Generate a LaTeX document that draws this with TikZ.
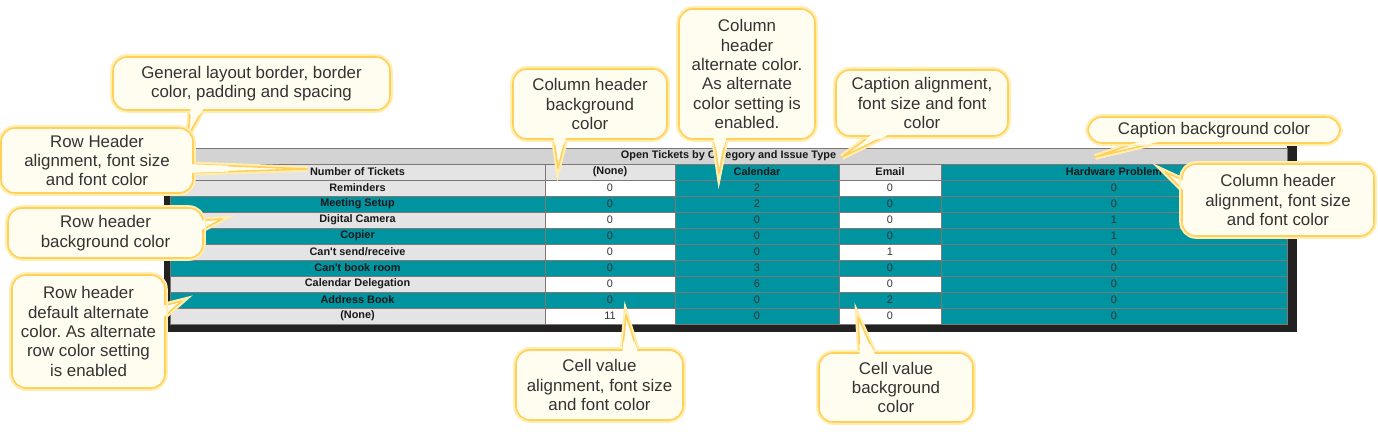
\documentclass[tikz,border=0pt]{standalone}
\usepackage{fontspec}
\setmainfont{Liberation Sans}
\usetikzlibrary{calc}
\frenchspacing

\definecolor{tealcell}{RGB}{0,147,160}
\definecolor{graycell}{RGB}{228,228,228}
\definecolor{capgray}{RGB}{211,211,211}
\definecolor{gridgray}{RGB}{128,118,118}
\definecolor{framedark}{RGB}{34,34,34}
\definecolor{calledge}{RGB}{255,208,92}
\definecolor{callglow}{RGB}{255,238,176}
\definecolor{callfill}{RGB}{255,253,240}
\definecolor{calltext}{RGB}{51,51,51}

% name, centre, width, height, base 1, base 2, tip, text
\newcommand{\calloutbox}[8]{%
  \path[tailline] (#5) -- (#7) -- (#6) -- cycle;
  \node[callbox, minimum width=#3, minimum height=#4] (#1) at (#2) {#8};
  \fill[callfill] (#5) -- ($(#5)!0.35!(#7)$) -- ($(#6)!0.35!(#7)$) -- (#6) -- cycle;
}

\begin{document}
\begin{tikzpicture}[
  x=0.02cm, y=-0.02cm,
  callbox/.style={draw=calledge, line width=0.9pt, fill=callfill, rounded corners=8pt,
    preaction={draw=callglow, line width=3.2pt}, align=center, inner sep=0pt,
    text=calltext, font=\fontsize{9.6}{11}\selectfont},
  tailline/.style={draw=calledge, line width=0.9pt, line join=round, fill=callfill,
    preaction={draw=callglow, line width=3.2pt}},
  rowhdr/.style={font=\fontsize{6.2}{7}\selectfont\bfseries, text=black!90, inner sep=0pt},
  cellval/.style={font=\fontsize{6.2}{7}\selectfont, text=black!80, inner sep=0pt},
  gridline/.style={draw=gridgray, line width=0.5pt}
]
\useasboundingbox (0,0) rectangle (1378,432);

% report frame and caption
\fill[framedark] (164,125) rectangle (170,332);
\fill[framedark] (164,324) rectangle (1297,332);
\fill[framedark] (1287,143) rectangle (1297,332);
\fill[capgray] (170,148) rectangle (1287,164);
\node[rowhdr] (caption) at (728.5,156) {Open Tickets by Category and Issue Type};

% row headers
\foreach \lab [count=\i from 0] in {Number of Tickets, Reminders, Meeting Setup,
    Digital Camera, Copier, Can\textquotesingle t send/receive, Can\textquotesingle t book room,
    Calendar Delegation, Address Book, (None)}{
  \pgfmathtruncatemacro\yt{164+16*\i}
  \ifodd\i \def\rc{graycell}\else\ifnum\i=0 \def\rc{graycell}\else\def\rc{tealcell}\fi\fi
  \fill[\rc] (170,\yt) rectangle (545,\yt+16);
  \node[rowhdr] (rh\i) at (357.5,\yt+8) {\lab};
}

% column headers
\foreach \lab/\xl/\xr/\cc [count=\k] in {(None)/545/675/graycell, Calendar/675/839/tealcell,
    Email/839/941/graycell, Hardware Problem/941/1287/tealcell}{
  \fill[\cc] (\xl,164) rectangle (\xr,180);
  \node[rowhdr] (ch\k) at ({(\xl+\xr)/2},172) {\lab};
}

% cell values
\foreach \a/\b/\c/\d [count=\j] in {0/2/0/0, 0/2/0/0, 0/0/0/1, 0/0/0/1, 0/0/1/0,
    0/3/0/0, 0/6/0/0, 0/0/2/0, 11/0/0/0}{
  \pgfmathtruncatemacro\yt{164+16*\j}
  \ifodd\j \def\wc{white}\else\def\wc{tealcell}\fi
  \fill[\wc] (545,\yt) rectangle (675,\yt+16);
  \fill[tealcell] (675,\yt) rectangle (839,\yt+16);
  \fill[\wc] (839,\yt) rectangle (941,\yt+16);
  \fill[tealcell] (941,\yt) rectangle (1287,\yt+16);
  \node[cellval] (v\j-1) at (610,\yt+8) {\a};
  \node[cellval] (v\j-2) at (757,\yt+8) {\b};
  \node[cellval] (v\j-3) at (890,\yt+8) {\c};
  \node[cellval] (v\j-4) at (1114,\yt+8) {\d};
}

% grid
\foreach \y in {164,180,...,308}
  \draw[gridline] (170,\y) -- (1287,\y);
\foreach \x in {545,675,839,941}
  \draw[gridline] (\x,164) -- (\x,324);
\draw[gridline] (170,148) rectangle (1287,324);

% callout tips
\coordinate (tipgen) at (188,136);
\coordinate (tiprowal) at (307,169);
\coordinate (tiprowbg) at (222,219);
\coordinate (tiprowalt) at (182,301);
\coordinate (tipcolbg) at (558,168);
\coordinate (tipcolalt) at (719,173);
\coordinate (tipcapal) at (842,157);
\coordinate (tipcapbg) at (1095,157);
\coordinate (tipcolal) at (1165,172);
\coordinate (tipcellal) at (626,315);
\coordinate (tipcellbg) at (858,317);

% callouts
\calloutbox{gen}{251.5,83.5}{5.54cm}{1.06cm}{191,104}{206,104}{tipgen}
  {General layout border, border\\color, padding and spacing}
\calloutbox{rowal}{97,160.5}{3.84cm}{1.30cm}{186,164}{186,173}{tiprowal}
  {Row Header\\alignment, font size\\and font color}
\calloutbox{rowbg}{105.5,233}{3.90cm}{1.00cm}{196,221}{196,233}{tiprowbg}
  {Row header\\background color}
\calloutbox{rowalt}{88.5,331.5}{3.06cm}{2.26cm}{158,307}{158,322}{tiprowalt}
  {Row header\\default alternate\\color. As alternate\\row color setting\\is enabled}
\calloutbox{colbg}{590,104}{3.08cm}{1.40cm}{553,133}{567,133}{tipcolbg}
  {Column header\\background\\color}
\calloutbox{colalt}{747,74}{2.72cm}{2.60cm}{713,133}{727,133}{tipcolalt}
  {Column\\header\\alternate color.\\As alternate\\color setting is\\enabled.}
\calloutbox{capal}{922,103}{3.44cm}{1.32cm}{878,130}{898,130}{tipcapal}
  {Caption alignment,\\font size and font\\color}
\calloutbox{capbg}{1214,130}{5.04cm}{0.52cm}{1150,138}{1175,138}{tipcapbg}
  {Caption background color}
\calloutbox{colal}{1278,200}{3.84cm}{1.44cm}{1189,183}{1189,196}{tipcolal}
  {Column header\\alignment, font size\\and font color}
\calloutbox{cellal}{599.5,385}{3.34cm}{1.40cm}{622,356}{639,356}{tipcellal}
  {Cell value\\alignment, font size\\and font color}
\calloutbox{cellbg}{896,387.5}{3.08cm}{1.38cm}{860,359}{877,359}{tipcellbg}
  {Cell value\\background\\color}
\end{tikzpicture}
\end{document}
